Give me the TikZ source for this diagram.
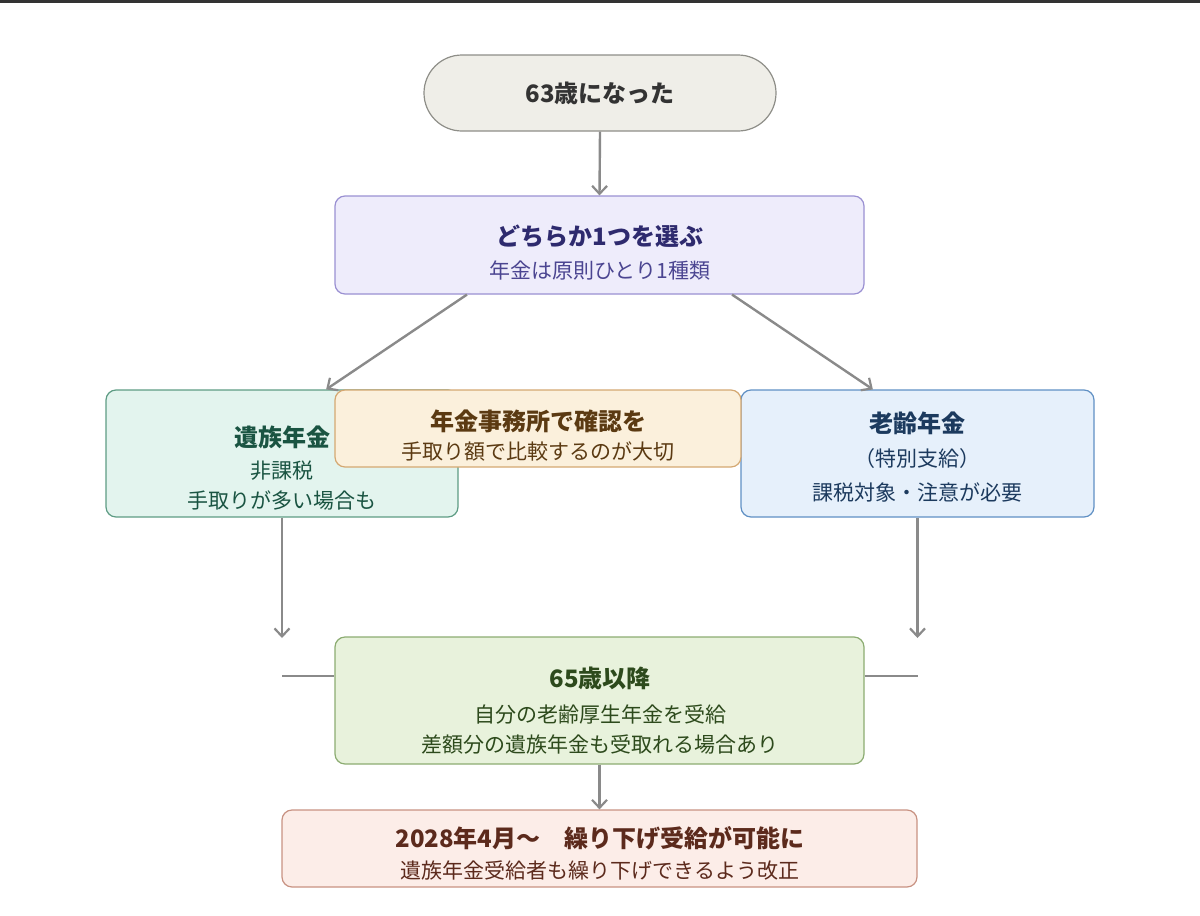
\documentclass[tikz,border=0pt]{standalone}
\usepackage{fontspec}
\setmainfont{Noto Sans CJK JP}
\usetikzlibrary{arrows.meta,calc}
\definecolor{linegray}{HTML}{8A8A8A}
\definecolor{topbar}{HTML}{333333}
\definecolor{startfill}{HTML}{EFEEE8}\definecolor{startdraw}{HTML}{8E8E88}\definecolor{starttext}{HTML}{333333}
\definecolor{choosefill}{HTML}{EEECFB}\definecolor{choosedraw}{HTML}{9A90D2}\definecolor{choosetitle}{HTML}{2E2A6E}\definecolor{choosesub}{HTML}{4B4591}
\definecolor{leftfill}{HTML}{E3F4EE}\definecolor{leftdraw}{HTML}{5E9C84}\definecolor{lefttext}{HTML}{1A5442}
\definecolor{ovfill}{HTML}{FBF0DC}\definecolor{ovdraw}{HTML}{D4A872}\definecolor{ovtext}{HTML}{5B3A12}
\definecolor{rightfill}{HTML}{E6F0FB}\definecolor{rightdraw}{HTML}{6090C4}\definecolor{righttext}{HTML}{1C3A5E}
\definecolor{midfill}{HTML}{E8F2DC}\definecolor{middraw}{HTML}{8CAC72}\definecolor{midtext}{HTML}{2D4A1C}
\definecolor{botfill}{HTML}{FCEDE8}\definecolor{botdraw}{HTML}{C89282}\definecolor{bottext}{HTML}{5C2A1C}
\tikzset{
  box/.style={draw, rounded corners=5pt, line width=0.6pt, inner sep=0pt},
  ttl/.style={inner sep=0pt, font=\fontsize{12}{14}\selectfont\bfseries},
  sub/.style={inner sep=0pt, font=\fontsize{10.5}{12}\selectfont},
  conn/.style={draw=linegray, line width=1.2pt, -{Straight Barb[length=4pt,width=7.5pt,line width=1.1pt]}},
  plain/.style={draw=linegray, line width=1.2pt}
}
\begin{document}
\begin{tikzpicture}[x=0.5pt,y=-0.5pt]
\useasboundingbox (0,0) rectangle (1200,916);
\fill[topbar] (0,0) rectangle (1200,3);

% boxes
\node[box, rounded corners=19pt, fill=startfill, draw=startdraw, minimum width=176pt, minimum height=38pt] (start) at (600,93) {};
\node[box, fill=choosefill, draw=choosedraw, minimum width=264.5pt, minimum height=49pt] (choose) at (599.5,245) {};
\node[box, fill=leftfill, draw=leftdraw, minimum width=176pt, minimum height=63.5pt] (left) at (282,453.5) {};
\node[box, fill=rightfill, draw=rightdraw, minimum width=176.5pt, minimum height=63.5pt] (right) at (917.5,453.5) {};
\node[box, fill=midfill, draw=middraw, minimum width=264.5pt, minimum height=63.5pt] (mid) at (599.5,700.5) {};
\node[box, fill=botfill, draw=botdraw, minimum width=317.5pt, minimum height=38.5pt] (bot) at (599.5,848.5) {};

% texts
\node[ttl, text=starttext] (t0) at (600,93) {63歳になった};
\node[ttl, text=choosetitle] (t1) at (600,236) {どちらか1つを選ぶ};
\node[sub, text=choosesub] (t1s) at (600,270) {年金は原則ひとり1種類};
\node[ttl, text=lefttext] (t2) at (282,437) {遺族年金};
\node[sub, text=lefttext] (t2a) at (282,471) {非課税};
\node[sub, text=lefttext] (t2b) at (282,500) {手取りが多い場合も};
\node[ttl, text=righttext] (t3) at (917,423) {老齢年金};
\node[sub, text=righttext] (t3a) at (917,459) {（特別支給）};
\node[sub, text=righttext] (t3b) at (917,492) {課税対象・注意が必要};

% overlay box
\node[box, fill=ovfill, draw=ovdraw, minimum width=203pt, minimum height=38.5pt] (ov) at (538,428.5) {};
\node[ttl, text=ovtext] (t4) at (538,421) {年金事務所で確認を};
\node[sub, text=ovtext] (t4s) at (538,451) {手取り額で比較するのが大切};

\node[ttl, text=midtext] (t5) at (600,678) {65歳以降};
\node[sub, text=midtext] (t5a) at (600,715) {自分の老齢厚生年金を受給};
\node[sub, text=midtext] (t5b) at (600,745) {差額分の遺族年金も受取れる場合あり};
\node[ttl, text=bottext] (t6) at (600,838) {2028年4月〜　繰り下げ受給が可能に};
\node[sub, text=bottext] (t6s) at (600,871) {遺族年金受給者も繰り下げできるよう改正};

% connectors
\coordinate (lend) at (282,638);
\coordinate (rend) at (917.5,638);
\coordinate (lh) at (282,676);
\coordinate (rh) at (917.5,676);
\path[conn] (start.south) -- (choose.north);
\path[conn] ($(choose.south west)!0.25!(choose.south east)$) -- ($(left.north west)!0.625!(left.north east)$);
\path[conn] ($(choose.south west)!0.75!(choose.south east)$) -- ($(right.north west)!0.374!(right.north east)$);
\path[conn] (left.south) -- (lend);
\path[conn] (right.south) -- (rend);
\path[plain] (lh) -- (lh -| mid.west);
\path[plain] (mid.east |- rh) -- (rh);
\path[conn] (mid.south) -- (bot.north);
\end{tikzpicture}
\end{document}
